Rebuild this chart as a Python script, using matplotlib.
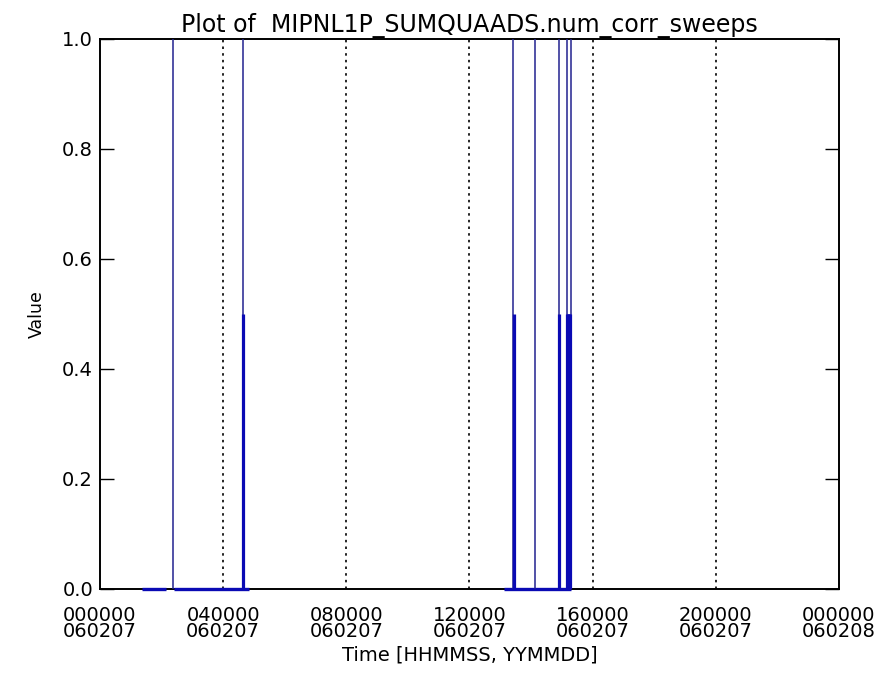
import matplotlib
matplotlib.use("Agg")
import matplotlib.pyplot as plt

# time in hours since 000000 060207
x_ticks = [0, 4, 8, 12, 16, 20, 24]
x_tick_labels = ["000000\n060207", "040000\n060207", "080000\n060207", "120000\n060207",
                 "160000\n060207", "200000\n060207", "000000\n060208"]
y_ticks = [0.0, 0.2, 0.4, 0.6, 0.8, 1.0]

# stretches where value sits at 0
base_start = [1.35, 2.40, 13.13]
base_end = [2.13, 4.85, 15.31]
# single samples reaching 1.0
full_t = [2.36, 4.64, 13.42, 14.13, 14.91, 15.16, 15.29]
full_v = [1.0, 1.0, 1.0, 1.0, 1.0, 1.0, 1.0]
# dense samples reaching 0.5
half_t = [4.65, 13.43, 14.91, 15.18, 15.21, 15.24, 15.27]
half_v = [0.5, 0.5, 0.5, 0.5, 0.5, 0.5, 0.5]

plt.rcParams['font.family'] = ['DejaVu Sans']

fig = plt.figure(figsize=(8.89, 6.87), dpi=100)
ax = fig.add_axes([100/889, 1-589/687, 739/889, 550/687])

ax.hlines([0]*len(base_start), base_start, base_end, color='#0a0ab4', lw=2.4, zorder=3, clip_on=False)
ax.vlines(full_t, 0, full_v, color='#22228f', lw=1.1, zorder=3)
ax.vlines(half_t, 0, half_v, color='#0a0ab4', lw=2.3, zorder=3)

for t in x_ticks[1:-1]:
    ax.axvline(t, color='black', lw=1.2, linestyle=(0, (1.5, 2.5)), zorder=2)

ax.set_xlim(0, 24)
ax.set_ylim(0, 1)
ax.set_xticks(x_ticks)
ax.set_xticklabels(x_tick_labels, fontsize=14, linespacing=0.85)
ax.set_yticks(y_ticks)
ax.set_yticklabels(["%.1f" % v for v in y_ticks], fontsize=14)
ax.tick_params(axis='x', length=0, pad=12)
ax.tick_params(axis='y', direction='in', length=10, width=1, right=True, pad=5)
for s in ax.spines.values():
    s.set_linewidth(1.4)

ax.set_title("Plot of  MIPNL1P_SUMQUAADS.num_corr_sweeps", fontsize=17, pad=5)
ax.set_xlabel("Time [HHMMSS, YYMMDD]", fontsize=14, labelpad=3)
ax.set_ylabel("Value", fontsize=12.5, labelpad=12)

fig.savefig("out.png", dpi=100)
